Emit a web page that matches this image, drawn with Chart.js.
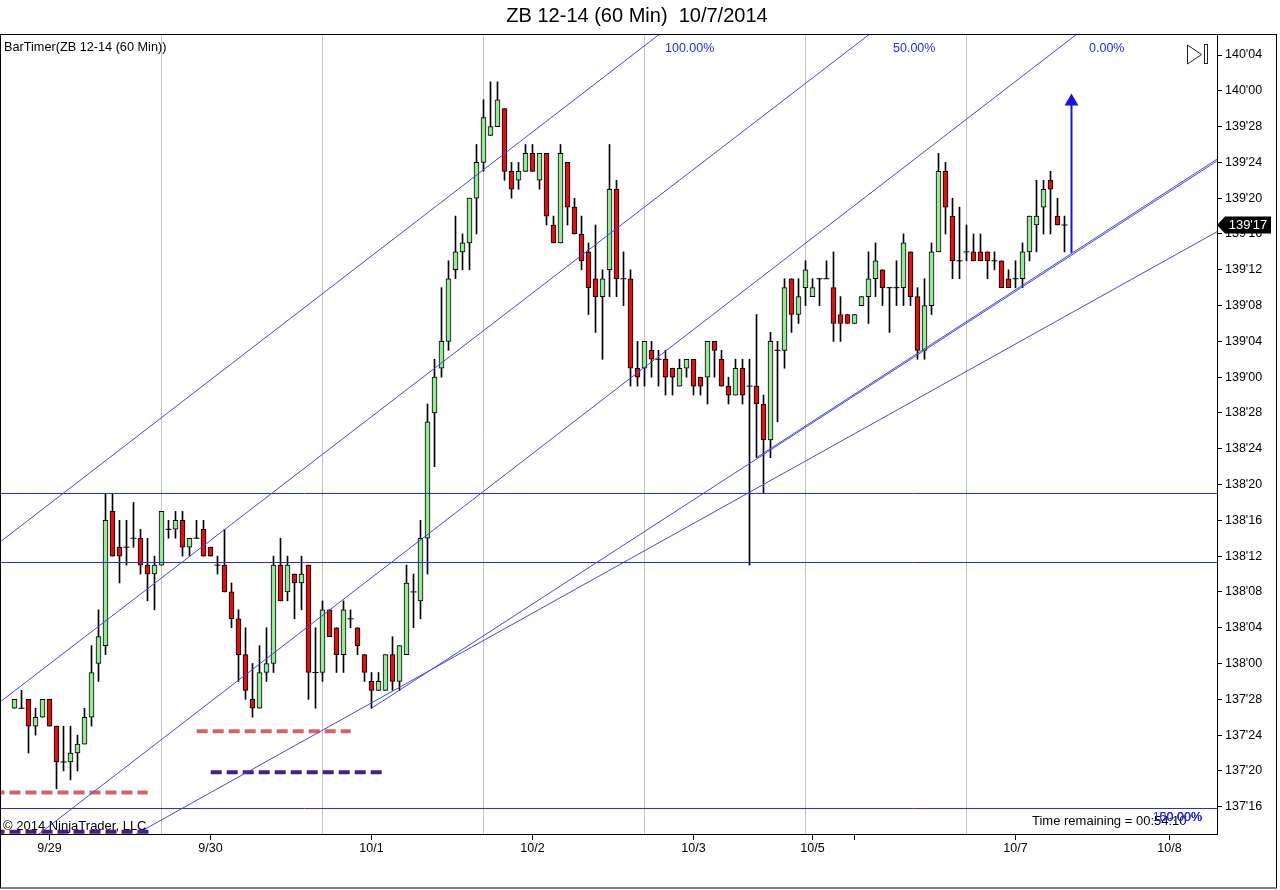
<!DOCTYPE html>
<html>
<head>
<meta charset="utf-8">
<title>ZB 12-14 (60 Min)</title>
<script src="https://cdn.jsdelivr.net/npm/chart.js@4.4.0/dist/chart.umd.min.js"></script>
<style>
  html, body { margin: 0; padding: 0; background: #fff; overflow: hidden; }
  #wrap { width: 1280px; height: 890px; }
</style>
</head>
<body>
<div id="wrap"><canvas id="zb" width="1280" height="890"></canvas></div>
<script>
// prices are in 32nds above 137'00 (so 81 = 139'17)
const open = [
  27,27,28,25,26,28,25,21,21,22, 23,26,32,34,49,45,45,46,46,43,
  42,43,47,47,48,45,46,47,45,43, 43,40,37,33,28,27,31,32,43,40,
  42,41,43,31,31,38,36,33,37,36, 33,30,29,29,33,30,33,40,39,46,
  60,65,68,76,78,79,84,88,91,92, 94,87,86,87,89,86,89,81,79,88,
  83,80,78,75,73,76,85,75,75,65, 65,67,66,66,65,63,65,66,64,64,
  68,66,63,62,65,63,63,61,57,67, 67,75,71,74,73,75,75,74,71,71,
  70,72,73,75,76,74,74,74,78,73, 67,72,78,87,82,77,78,78,78,78,
  77,77,75,75,75,78,81,83,86,82,81
];
const high = [
  28,29,28,27,28,28,25,25,25,24, 27,34,38,51,51,48,48,50,47,46,
  44,49,48,49,49,46,48,48,45,44, 47,41,38,36,32,34,36,44,46,44,
  42,44,43,36,39,38,36,39,38,36, 33,31,31,33,35,34,43,42,48,61,
  66,74,77,82,80,84,90,95,97,97, 94,88,88,90,90,89,89,82,90,88,
  84,82,79,81,76,90,86,78,76,68, 68,68,67,67,65,66,66,66,64,68,
  68,67,64,66,66,66,71,62,69,68, 75,75,75,77,75,75,77,78,73,71,
  71,73,78,79,76,74,77,80,78,74, 75,79,89,88,84,83,81,80,80,78,
  78,77,76,77,79,82,86,86,87,84,82
];
const low = [
  27,27,22,24,26,25,18,20,19,20, 23,25,30,33,44,41,43,45,42,39,
  38,43,46,46,44,44,46,44,44,42, 40,36,30,28,26,27,30,31,39,39,
  37,38,28,27,30,35,31,31,36,33, 30,27,29,29,29,29,33,36,37,42,
  54,64,67,75,76,76,80,87,91,92, 86,84,85,87,87,85,81,79,79,81,
  80,76,71,69,66,73,73,72,63,63, 63,64,63,62,62,63,64,62,62,61,
  64,63,61,62,61,43,55,51,55,59, 65,69,70,72,73,72,75,68,68,70,
  70,72,70,73,72,69,72,72,72,66, 66,71,78,80,75,75,77,77,77,75,
  76,74,74,74,74,77,78,80,80,81,78
];
const close = [
  28,27,25,26,28,25,21,21,22,23, 26,31,35,48,44,44,45,46,43,42,
  43,49,47,48,45,46,46,44,44,43, 40,37,33,29,27,31,32,43,39,43,
  41,42,31,31,38,35,33,38,37,34, 31,29,30,33,30,34,41,40,46,59,
  64,68,75,78,79,84,88,93,92,95, 87,85,87,89,87,89,82,79,89,83,
  80,77,74,73,75,85,75,75,65,64, 68,66,66,64,64,65,66,63,63,68,
  67,63,62,65,62,63,61,57,68,67, 74,71,73,76,74,75,75,70,70,70,
  71,73,75,77,74,74,74,79,73,67, 72,78,87,83,77,77,78,77,77,77,
  77,74,74,75,78,82,82,85,85,81,81
];

// axis ticks
const yTickVals = [16,20,24,28,32,36,40,44,48,52,56,60,64,68,72,76,80,84,88,92,96,100];
const yTickLabels = ["137'16","137'20","137'24","137'28","138'00","138'04","138'08","138'12",
  "138'16","138'20","138'24","138'28","139'00","139'04","139'08","139'12","139'16",
  "139'20","139'24","139'28","140'00","140'04"];
const xTickIdx = [5, 28, 51, 74, 97, 114, 120, 143, 165];
const xTickLabels = ['9/29', '9/30', '10/1', '10/2', '10/3', '10/5', '', '10/7', '10/8'];
const sessionIdx = [21, 44, 67, 90, 113, 136];

// drawing objects, as [bar index, price] pairs
const fib100 = [[-3.5, 44.72], [97.93, 105.81]];
const fib50 = [[-3.5, 26.84], [133.64, 109.23]];
const fib0 = [[-2.07, 9.6], [162.21, 108.63]];
const trendLow = [[12.21, 10.69], [173.64, 81.06]];
const trendA = [[51, 27], [173.64, 89.1]];
const trendB = [[106, 55], [173.64, 89.3]];
const hLevels = [51, 43.29, 15.8];
const redDash = [[[-3, 17.6], [19.03, 17.6]], [[26.03, 24.43], [48.03, 24.43]]];
const purpleDash = [[[28.03, 19.85], [52.6, 19.85]], [[-3, 13.21], [19.6, 13.21]]];
const arrowUp = [[151, 77.9], [151, 94.8]];

const title = 'ZB 12-14 (60 Min)  10/7/2014';
const fibNames = ['100.00%', '50.00%', '0.00%'];

const FONT = '"Liberation Sans", Arial, sans-serif';
const UP = '#98e698', DOWN = '#d41616';

const pts = arr => arr.map(p => ({ x: p[0], y: p[1] }));
const fmt = v => `${137 + Math.floor(v / 32)}'${String(v % 32).padStart(2, '0')}`;

const lineSet = (data, color, extra) => Object.assign({
  type: 'line', data: pts(data), borderColor: color, borderWidth: 1,
  pointRadius: 0, fill: false, tension: 0, order: 0
}, extra || {});

const datasets = [
  {
    type: 'bar', label: 'body', order: 1, grouped: false, barThickness: 5,
    data: open.map((o, i) => ({ x: i, y: [o, close[i]] })),
    backgroundColor: open.map((o, i) => close[i] >= o ? UP : DOWN),
    borderColor: '#000', borderWidth: 1, borderSkipped: false
  },
  {
    type: 'line', label: 'doji', order: 1, showLine: false,
    data: open.map((o, i) => ({ x: i, y: o })).filter((p, i) => open[i] === close[i]),
    pointStyle: 'line', pointRadius: 3, pointBorderColor: '#000', pointBorderWidth: 1
  },
  {
    type: 'bar', label: 'wick', order: 2, grouped: false, barThickness: 1,
    data: low.map((l, i) => ({ x: i, y: [l, high[i]] })),
    backgroundColor: '#000', borderWidth: 0
  },
  lineSet(fib100, '#4646dc'),
  lineSet(fib50, '#4646dc'),
  lineSet(fib0, '#4646dc'),
  lineSet(trendLow, '#4646dc'),
  lineSet(trendA, '#4646dc'),
  lineSet(trendB, '#4646dc'),
  ...hLevels.map(v => lineSet([[-3, v], [175, v]], '#2a2ad8')),
  ...redDash.map(d => lineSet(d, '#d26464', { borderWidth: 4, borderDash: [11, 5] })),
  ...purpleDash.map(d => lineSet(d, '#4a1a8a', { borderWidth: 4, borderDash: [11, 5] })),
  lineSet(arrowUp, '#1414e6', {
    borderWidth: 2, pointRadius: [0, 8], pointStyle: 'triangle',
    pointBackgroundColor: '#1414e6', pointBorderWidth: 0
  })
];

const decor = {
  id: 'decor',
  afterDraw(chart) {
    const { ctx, chartArea: a } = chart;
    const y = chart.scales.y;
    ctx.save();
    ctx.strokeStyle = '#000';
    ctx.lineWidth = 1;
    ctx.strokeRect(0.5, 34.5, 1276, 853.5);
    ctx.strokeRect(a.left - 0.5, a.top - 0.5, a.right - a.left + 1, a.bottom - a.top + 1);

    ctx.fillStyle = '#000';
    ctx.textBaseline = 'middle';
    ctx.textAlign = 'center';
    ctx.font = '20px ' + FONT;
    ctx.fillText(title, 637, 16);

    ctx.textBaseline = 'alphabetic';
    ctx.textAlign = 'left';
    ctx.font = '12.7px ' + FONT;
    ctx.fillText('BarTimer(ZB 12-14 (60 Min))', 4, 51);
    ctx.font = '13px ' + FONT;
    ctx.fillText('\u00a9 2014 NinjaTrader, LLC', 3, 830);
    ctx.fillText('Time remaining = 00:54:10', 1032, 825);

    ctx.fillStyle = '#2a2ae6';
    ctx.font = '12.5px ' + FONT;
    ctx.fillText(fibNames[0], 665, 52);
    ctx.fillText(fibNames[1], 893, 52);
    ctx.fillText(fibNames[2], 1089, 52);
    ctx.textAlign = 'right';
    fibNames.forEach(t => ctx.fillText(t, 1202, 821));

    // bar timer icon
    ctx.strokeStyle = '#222';
    ctx.beginPath();
    ctx.moveTo(1187.5, 45);
    ctx.lineTo(1201.5, 54.5);
    ctx.lineTo(1187.5, 64);
    ctx.closePath();
    ctx.stroke();
    ctx.strokeRect(1204.5, 44.5, 3, 19);

    // last price marker
    const last = close[close.length - 1];
    const py = y.getPixelForValue(last);
    ctx.fillStyle = '#000';
    ctx.beginPath();
    ctx.moveTo(1217, py);
    ctx.lineTo(1225, py - 8.5);
    ctx.lineTo(1271, py - 8.5);
    ctx.lineTo(1271, py + 8.5);
    ctx.lineTo(1225, py + 8.5);
    ctx.closePath();
    ctx.fill();
    ctx.fillStyle = '#fff';
    ctx.textAlign = 'center';
    ctx.textBaseline = 'middle';
    ctx.font = '13px ' + FONT;
    ctx.fillText(fmt(last), 1248, py + 0.5);
    ctx.restore();
  }
};

new Chart(document.getElementById('zb'), {
  type: 'bar',
  data: { datasets },
  plugins: [decor],
  options: {
    responsive: false,
    animation: false,
    events: [],
    layout: { autoPadding: false, padding: { left: 1, top: 35, right: 3, bottom: 2 } },
    plugins: { legend: { display: false }, tooltip: { enabled: false }, title: { display: false } },
    scales: {
      x: {
        type: 'linear', min: -1.92857, max: 171.7857, offset: false, bounds: 'data',
        afterFit: s => { s.height = 54; s.paddingLeft = 0; s.paddingRight = 0; },
        afterBuildTicks: s => {
          s.ticks = [...xTickIdx, ...sessionIdx].sort((p, q) => p - q).map(v => ({ value: v }));
        },
        ticks: {
          autoSkip: false, maxRotation: 0, padding: 1, color: '#000',
          font: { size: 12.5, family: FONT },
          callback: v => { const k = xTickIdx.indexOf(v); return k >= 0 ? xTickLabels[k] : ''; }
        },
        grid: {
          offset: false, drawOnChartArea: true, tickLength: 6,
          color: c => (c.tick && sessionIdx.includes(c.tick.value)) ? '#c4c4c4' : 'rgba(0,0,0,0)',
          tickColor: c => (c.tick && xTickIdx.includes(c.tick.value)) ? '#000' : 'rgba(0,0,0,0)'
        },
        border: { display: true, color: '#000' }
      },
      y: {
        type: 'linear', position: 'right', min: 12.95, max: 102.235, bounds: 'data',
        afterFit: s => { s.width = 60; s.paddingTop = 0; s.paddingBottom = 0; },
        afterBuildTicks: s => { s.ticks = yTickVals.map(v => ({ value: v })); },
        ticks: {
          autoSkip: false, padding: 3, color: '#000',
          font: { size: 12.5, family: FONT },
          callback: v => { const k = yTickVals.indexOf(v); return k >= 0 ? yTickLabels[k] : ''; }
        },
        grid: { drawOnChartArea: false, tickLength: 5, tickColor: '#000' },
        border: { display: true, color: '#000' }
      }
    }
  }
});
</script>
</body>
</html>
